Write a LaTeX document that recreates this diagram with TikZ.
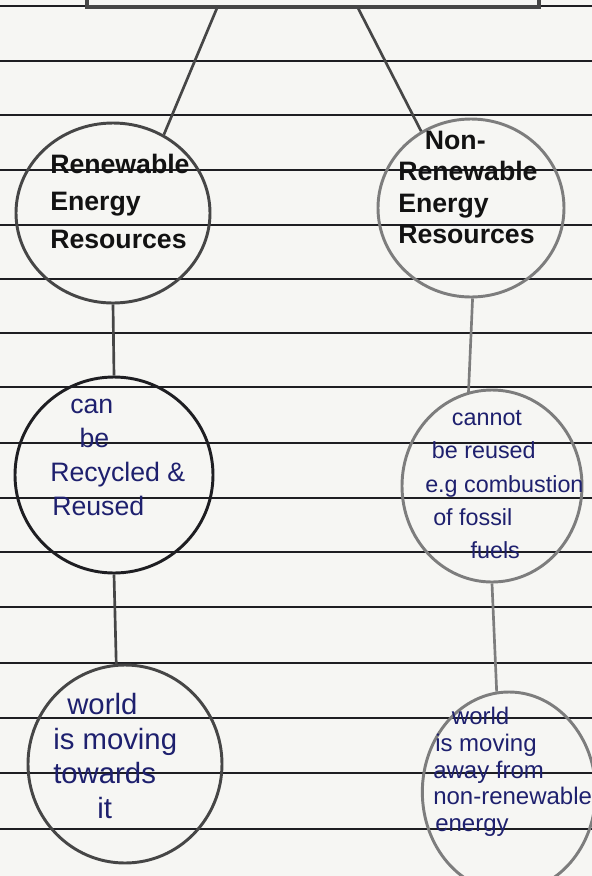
\documentclass[tikz,border=0pt]{standalone}
\usepackage{fontspec}
\setmainfont{Liberation Sans}
\usetikzlibrary{shapes.geometric}

\definecolor{paper}{RGB}{246,246,243}
\definecolor{rulecol}{RGB}{30,30,34}
\definecolor{pencil}{RGB}{70,70,70}
\definecolor{pencillight}{RGB}{125,125,125}
\definecolor{marker}{RGB}{18,18,18}
\definecolor{ink}{RGB}{30,32,110}

\tikzset{
  ruled/.style={draw=rulecol, line width=1.2pt},
  bubble/.style={ellipse, draw=pencil, line width=2.2pt, inner sep=0pt},
  link/.style={draw=pencil, line width=2pt},
  marktext/.style={anchor=north west, inner sep=0pt, text=marker, align=left},
  inktext/.style={anchor=north west, inner sep=0pt, text=ink, align=left},
}

\begin{document}
\begin{tikzpicture}[x=0.75pt,y=0.75pt,yscale=-1,xscale=1]
\useasboundingbox (0,0) rectangle (592,876);
\fill[paper] (0,0) rectangle (592,876);
\clip (0,0) rectangle (592,876);

%Ruled lines of the page
\foreach \ry in {6,61,115,170,225,279,333,387,443,498,552,607,663,718,773,829}
  \draw[ruled] (0,\ry) -- (592,\ry);

%Shape: Rectangle (top box, cut by the page edge)
\node[draw=pencil, line width=3pt, minimum width=339pt, minimum height=31.5pt, inner sep=0pt] (main) at (313,-14) {};
\coordinate (mainL) at (217,8);
\coordinate (mainR) at (358,8);

%Shape: Ellipse
\node[bubble, minimum width=145.5pt, minimum height=135pt] (ren) at (113,213) {};
\node[bubble, draw=pencillight, minimum width=139.5pt, minimum height=133.5pt] (non) at (471,208) {};
\node[bubble, draw=rulecol, minimum width=148.5pt, minimum height=147pt] (can) at (114,475) {};
\node[bubble, draw=pencillight, minimum width=135pt, minimum height=144pt] (cannot) at (492,486) {};
\node[bubble, minimum width=145.5pt, minimum height=148.5pt] (world) at (125,764) {};
\node[bubble, draw=pencillight, minimum width=130pt, minimum height=150pt] (away) at (509,792) {};

%Straight Lines
\draw[link] (mainL) -- (ren.57);
\draw[link] (mainR) -- (non.123);
\draw[link] (ren.south) -- (can.north);
\draw[link, draw=pencillight] (non.271) -- (cannot.104);
\draw[link] (can.south) -- (world.95);
\draw[link, draw=pencillight] (cannot.south) -- (away.97);

% Text Node
\node[marktext, font=\bfseries\fontsize{20}{28}\selectfont] (tren) at (50,154) {Renewable\\Energy\\Resources};
\node[marktext, font=\bfseries\fontsize{20}{23.5}\selectfont] (tnon) at (398,131) {\hspace*{20pt}Non-\\Renewable\\Energy\\Resources};
\node[inktext, font=\fontsize{20}{25.5}\selectfont] (tcan) at (50,399) {\hspace*{15pt}can\\\hspace*{22pt}be\\Recycled \&\\\hspace*{1.5pt}Reused};
\node[inktext, font=\fontsize{17.5}{25}\selectfont] (tcannot) at (425,410) {\hspace*{20pt}cannot\\\hspace*{5pt}be reused\\e.g combustion\\\hspace*{6pt}of fossil\\\hspace*{34pt}fuels};
\node[inktext, font=\fontsize{22}{26}\selectfont] (tworld) at (53,693) {\hspace*{10.5pt}world\\is moving\\towards\\\hspace*{33pt}it};
\node[inktext, font=\fontsize{18}{20}\selectfont] (taway) at (433,707) {\hspace*{14pt}world\\\hspace*{1.5pt}is moving\\away from\\non-renewable\\\hspace*{1.5pt}energy};

\end{tikzpicture}
\end{document}
